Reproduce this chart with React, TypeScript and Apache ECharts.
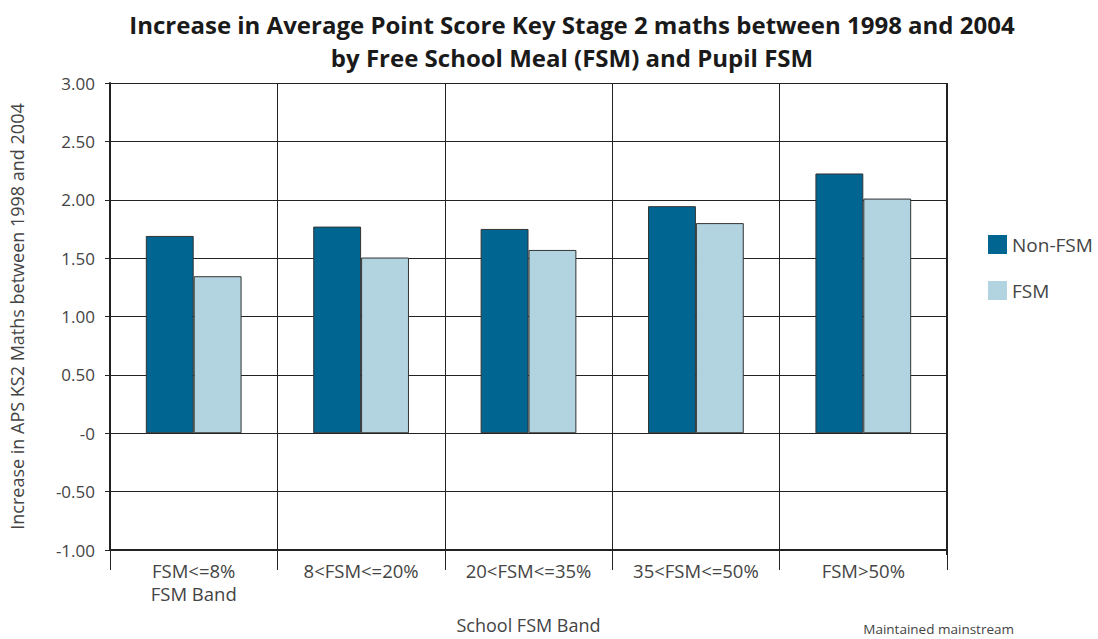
import React, { useEffect, useRef } from "react";
import * as echarts from "echarts";

const categories = ["FSM<=8%\nFSM Band", "8<FSM<=20%", "20<FSM<=35%", "35<FSM<=50%", "FSM>50%"];
const nonFsm = [1.69, 1.77, 1.75, 1.945, 2.225];
const fsm = [1.345, 1.505, 1.57, 1.80, 2.01];
const seriesNames = ["Non-FSM", "FSM"];

export default function App() {
  const ref = useRef<HTMLDivElement>(null);
  useEffect(() => {
    const chart = echarts.init(ref.current!, null, { renderer: "svg" });
    const font = "'Open Sans', 'Noto Sans', sans-serif";
    chart.setOption({
      animation: false,
      textStyle: { fontFamily: font },
      title: {
        text: "Increase in Average Point Score Key Stage 2 maths between 1998 and 2004\nby Free School Meal (FSM) and Pupil FSM",
        left: 572,
        textAlign: "center",
        top: 8,
        padding: 0,
        textStyle: { fontFamily: font, fontSize: 24, fontWeight: "bold", color: "#1a1a1a", lineHeight: 33 },
      },
      legend: {
        orient: "vertical",
        left: 988,
        top: 235,
        padding: 0,
        itemWidth: 19,
        itemHeight: 19,
        itemGap: 27,
        icon: "rect",
        data: seriesNames,
        itemStyle: { borderWidth: 0 },
        textStyle: { fontFamily: font, fontSize: 19, color: "#444", lineHeight: 19 },
      },
      grid: { left: 108, right: 151, top: 83, bottom: 84, containLabel: false },
      xAxis: {
        type: "category",
        data: categories,
        name: "School FSM Band",
        nameLocation: "middle",
        nameGap: 66,
        nameTextStyle: { fontFamily: font, fontSize: 18, color: "#444" },
        axisLine: { onZero: false, lineStyle: { color: "#222", width: 2 } },
        axisTick: { show: true, length: 20, interval: 0, lineStyle: { color: "#222", width: 1 } },
        axisLabel: { fontFamily: font, fontSize: 18.5, color: "#444", margin: 9, lineHeight: 23, interval: 0 },
        splitLine: { show: true, interval: 0, lineStyle: { color: "#222", width: 1 } },
      },
      yAxis: {
        type: "value",
        min: -1,
        max: 3,
        interval: 0.5,
        name: "Increase in APS KS2 Maths between 1998 and 2004",
        nameLocation: "middle",
        nameGap: 84,
        nameTextStyle: { fontFamily: font, fontSize: 18, color: "#444" },
        axisLine: { show: true, lineStyle: { color: "#222", width: 2 } },
        axisTick: { show: true, length: 5, lineStyle: { color: "#222" } },
        axisLabel: {
          fontFamily: font,
          fontSize: 17,
          color: "#444",
          margin: 15,
          formatter: (v: number) => (Math.abs(v) < 1e-9 ? "-0" : v.toFixed(2)),
        },
        splitLine: { show: true, lineStyle: { color: "#222", width: 1 } },
      },
      series: [
        {
          name: seriesNames[0],
          type: "bar",
          data: nonFsm,
          barWidth: "28.6%",
          barGap: "0%",
          itemStyle: { color: "#006591", borderColor: "#333", borderWidth: 1 },
        },
        {
          name: seriesNames[1],
          type: "bar",
          data: fsm,
          barWidth: "28.6%",
          barGap: "0%",
          itemStyle: { color: "#b2d3e0", borderColor: "#333", borderWidth: 1 },
        },
      ],
      graphic: [
        {
          type: "rect",
          shape: { x: 946, y: 83, width: 1.5, height: 472 },
          style: { fill: "#222" },
          silent: true,
        },
        {
          type: "text",
          right: 84,
          top: 622,
          style: { text: "Maintained mainstream", fontFamily: font, fontSize: 13.5, fill: "#444" },
        },
      ],
    });
    return () => chart.dispose();
  }, []);
  return <div ref={ref} style={{ width: 1098, height: 639, position: "absolute", left: 0, top: 0, background: "#fff" }} />;
}
